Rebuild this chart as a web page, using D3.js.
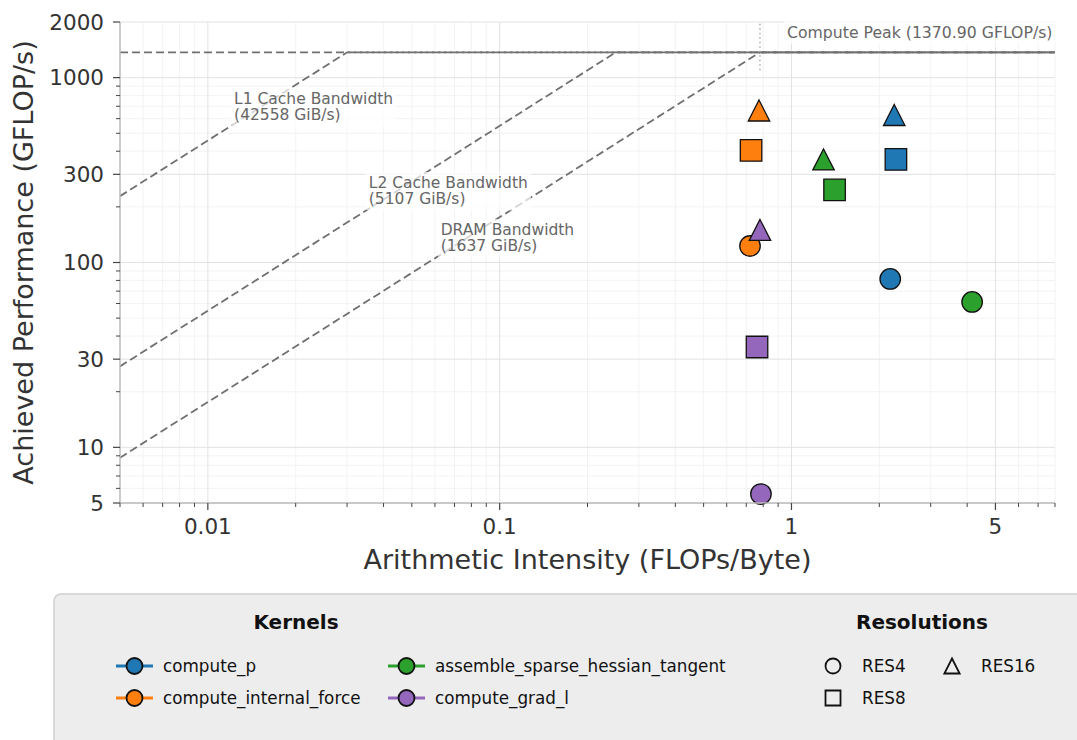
<!DOCTYPE html>
<html lang="en">
<head>
<meta charset="UTF-8">
<title>Roofline</title>
<style>
  body, html { margin: 0; background: #fff; overflow: hidden; }
  text { font-family: "DejaVu Sans", sans-serif; }
</style>
</head>
<body>
<div id="chart"></div>
<script src="https://cdn.jsdelivr.net/npm/d3@7"></script>
<script>
// kernels (colour) and resolutions (marker shape)
const kernels = ["compute_p", "compute_internal_force", "assemble_sparse_hessian_tangent", "compute_grad_l"];
const kernelColors = ["#1f77b4", "#ff7f0e", "#2ca02c", "#9467bd"];
const resolutions = ["RES4", "RES8", "RES16"];
const resShapes = ["circle", "square", "triangle"];

// arithmetic intensity (FLOPs/Byte) and performance (GFLOP/s), one entry per kernel
const res4AI = [2.18, 0.721, 4.16, 0.786];
const res4Perf = [81.5, 122.8, 61.2, 5.59];
const res8AI = [2.28, 0.727, 1.405, 0.762];
const res8Perf = [361, 404, 247, 34.9];
const res16AI = [2.25, 0.774, 1.288, 0.780];
const res16Perf = [628, 664, 361, 150];

// machine roofs
const roofNames = ["L1 Cache Bandwidth", "L2 Cache Bandwidth", "DRAM Bandwidth"];
const roofGiBs = [42558, 5107, 1637];
const peakGflops = 1370.90;

// axes
const xDomain = [0.005, 8];
const yDomain = [5, 2000];
const xTicks = [0.01, 0.1, 1, 5];
const yTicks = [5, 10, 30, 100, 300, 1000, 2000];

const W = 1077, H = 740;
const plot = { left: 120, right: 1055, top: 22, bottom: 503 };

const svg = d3.select("#chart").append("svg")
  .attr("width", W).attr("height", H);

const x = d3.scaleLog().domain(xDomain).range([plot.left, plot.right]);
const y = d3.scaleLog().domain(yDomain).range([plot.bottom, plot.top]);

// every 1..9 x 10^k inside a domain
function logSteps(domain) {
  const out = [];
  for (let e = Math.floor(Math.log10(domain[0])); e <= Math.ceil(Math.log10(domain[1])); e++) {
    for (let m = 1; m <= 9; m++) {
      const v = +(m * Math.pow(10, e)).toPrecision(6);
      if (v >= domain[0] - 1e-12 && v <= domain[1] + 1e-9) out.push(v);
    }
  }
  return out;
}
const isIn = (arr, v) => arr.some(t => Math.abs(t - v) / v < 1e-6);
const xMinor = logSteps(xDomain).filter(v => !isIn(xTicks, v));
const yMinor = logSteps(yDomain).filter(v => !isIn(yTicks, v));

// grid
const grid = svg.append("g");
grid.selectAll(".gx-minor").data(xMinor).enter().append("line")
  .attr("x1", d => x(d)).attr("x2", d => x(d))
  .attr("y1", plot.top).attr("y2", plot.bottom)
  .attr("stroke", "#f0f0f0").attr("stroke-width", 0.8);
grid.selectAll(".gy-minor").data(yMinor).enter().append("line")
  .attr("y1", d => y(d)).attr("y2", d => y(d))
  .attr("x1", plot.left).attr("x2", plot.right)
  .attr("stroke", "#f0f0f0").attr("stroke-width", 0.8);
grid.selectAll(".gx").data(xTicks).enter().append("line")
  .attr("x1", d => x(d)).attr("x2", d => x(d))
  .attr("y1", plot.top).attr("y2", plot.bottom)
  .attr("stroke", "#e2e2e2").attr("stroke-width", 1);
grid.selectAll(".gy").data(yTicks).enter().append("line")
  .attr("y1", d => y(d)).attr("y2", d => y(d))
  .attr("x1", plot.left).attr("x2", plot.right)
  .attr("stroke", "#e2e2e2").attr("stroke-width", 1);

svg.append("clipPath").attr("id", "clip").append("rect")
  .attr("x", plot.left).attr("y", plot.top)
  .attr("width", plot.right - plot.left).attr("height", plot.bottom - plot.top);

const roofG = svg.append("g").attr("clip-path", "url(#clip)");

// faint background text
roofG.append("text")
  .attr("x", 960).attr("y", 47)
  .attr("text-anchor", "middle")
  .attr("font-size", "19px").attr("font-style", "italic")
  .attr("fill", "#fff").attr("opacity", 0.85)
  .text("Compute-bound");

// compute ceiling
roofG.append("line")
  .attr("x1", plot.left).attr("x2", plot.right)
  .attr("y1", y(peakGflops)).attr("y2", y(peakGflops))
  .attr("stroke", "#707070").attr("stroke-width", 1.8)
  .attr("stroke-dasharray", "8,4");

// bandwidth roofs: GiB/s -> GB/s
const roofs = roofNames.map((name, i) => {
  const bw = roofGiBs[i] * 1.073741824;
  return { name, gib: roofGiBs[i], bw, ridge: peakGflops / bw };
});

const roofLine = d3.line().x(d => x(d[0])).y(d => y(d[1]));
roofG.selectAll(".roof").data(roofs).enter().append("path")
  .attr("d", r => roofLine([
    [xDomain[0], xDomain[0] * r.bw],
    [r.ridge, peakGflops],
    [xDomain[1], peakGflops]
  ]))
  .attr("fill", "none")
  .attr("stroke", "#707070").attr("stroke-width", 1.8)
  .attr("stroke-dasharray", "8,4");

// dotted marker at the DRAM ridge point
const dram = roofs[2];
roofG.append("line")
  .attr("x1", x(dram.ridge)).attr("x2", x(dram.ridge))
  .attr("y1", y(peakGflops * 0.8)).attr("y2", y(peakGflops * 1.5))
  .attr("stroke", "#aaa").attr("stroke-width", 1.5)
  .attr("stroke-dasharray", "1.5,3");

// roof labels (anchor: left, first baseline)
const labelPos = [[0.01230, 722], [0.0356, 253], [0.0628, 141]];
roofs.forEach((r, i) => {
  const lx = x(labelPos[i][0]), ly = y(labelPos[i][1]);
  const t = svg.append("text")
    .attr("x", lx).attr("y", ly)
    .attr("font-size", "15.5px").attr("fill", "#666");
  t.append("tspan").attr("x", lx).text(r.name);
  t.append("tspan").attr("x", lx).attr("dy", 16.5).text(`(${r.gib} GiB/s)`);
  const bb = t.node().getBBox();
  svg.insert("rect", () => t.node())
    .attr("x", bb.x - 3).attr("y", bb.y - 2)
    .attr("width", bb.width + 6).attr("height", bb.height + 4)
    .attr("rx", 3)
    .attr("fill", "#fff").attr("opacity", 0.7);
});

// peak label
const pk = svg.append("text")
  .attr("x", 787).attr("y", 38)
  .attr("font-size", "15.7px").attr("fill", "#666")
  .text(`Compute Peak (${peakGflops.toFixed(2)} GFLOP/s)`);
{
  const bb = pk.node().getBBox();
  svg.insert("rect", () => pk.node())
    .attr("x", bb.x - 3).attr("y", bb.y - 2)
    .attr("width", bb.width + 6).attr("height", bb.height + 4)
    .attr("fill", "#fff").attr("opacity", 0.7);
}

// marker shapes
function shapePath(shape, s) {
  if (shape === "circle") return d3.symbol(d3.symbolCircle, Math.PI * s * s / 4)();
  if (shape === "square") return `M${-s/2},${-s/2}H${s/2}V${s/2}H${-s/2}Z`;
  const w = s * 1.02, h = s;
  return `M0,${-h/2}L${w/2},${h/2}L${-w/2},${h/2}Z`;
}

const points = [];
[[res4AI, res4Perf], [res8AI, res8Perf], [res16AI, res16Perf]].forEach((pair, r) => {
  kernels.forEach((k, i) => {
    points.push({ kernel: i, res: r, ai: pair[0][i], perf: pair[1][i] });
  });
});

const markSize = [20.5, 21.5, 21];
svg.append("g").selectAll("path").data(points).enter().append("path")
  .attr("transform", d => `translate(${x(d.ai)},${y(d.perf)})`)
  .attr("d", d => shapePath(resShapes[d.res], markSize[d.res]))
  .attr("fill", d => kernelColors[d.kernel])
  .attr("stroke", "#111").attr("stroke-width", 1.3);

// axes
const xAxis = svg.append("g").attr("transform", `translate(0,${plot.bottom})`);
xAxis.append("line").attr("x1", plot.left).attr("x2", plot.right)
  .attr("stroke", "#bbb").attr("stroke-width", 1.5);
xAxis.selectAll(".mt").data(xMinor).enter().append("line")
  .attr("x1", d => x(d)).attr("x2", d => x(d)).attr("y1", 0).attr("y2", 4)
  .attr("stroke", "#444").attr("stroke-width", 1);
xAxis.selectAll(".Mt").data(xTicks).enter().append("line")
  .attr("x1", d => x(d)).attr("x2", d => x(d)).attr("y1", 0).attr("y2", 7)
  .attr("stroke", "#444").attr("stroke-width", 1.2);
xAxis.selectAll(".tl").data(xTicks).enter().append("text")
  .attr("x", d => x(d)).attr("y", 31)
  .attr("text-anchor", "middle").attr("font-size", "21.5px").attr("fill", "#333")
  .text(d => d3.format("~g")(d));

const yAxis = svg.append("g").attr("transform", `translate(${plot.left},0)`);
yAxis.append("line").attr("y1", plot.top).attr("y2", plot.bottom)
  .attr("stroke", "#bbb").attr("stroke-width", 1.5);
yAxis.selectAll(".mt").data(yMinor).enter().append("line")
  .attr("y1", d => y(d)).attr("y2", d => y(d)).attr("x1", 0).attr("x2", -4)
  .attr("stroke", "#444").attr("stroke-width", 1);
yAxis.selectAll(".Mt").data(yTicks).enter().append("line")
  .attr("y1", d => y(d)).attr("y2", d => y(d)).attr("x1", 0).attr("x2", -7)
  .attr("stroke", "#444").attr("stroke-width", 1.2);
yAxis.selectAll(".tl").data(yTicks).enter().append("text")
  .attr("x", -16).attr("y", d => y(d)).attr("dy", "0.36em")
  .attr("text-anchor", "end").attr("font-size", "21.5px").attr("fill", "#333")
  .text(d => d);

svg.append("text")
  .attr("x", (plot.left + plot.right) / 2).attr("y", 569)
  .attr("text-anchor", "middle").attr("font-size", "27px").attr("fill", "#333")
  .text("Arithmetic Intensity (FLOPs/Byte)");
svg.append("text")
  .attr("transform", `translate(33,${(plot.top + plot.bottom) / 2}) rotate(-90)`)
  .attr("text-anchor", "middle").attr("font-size", "27px").attr("fill", "#333")
  .text("Achieved Performance (GFLOP/s)");

// legend
const lg = svg.append("g");
lg.append("rect")
  .attr("x", 54).attr("y", 594).attr("width", 1060).attr("height", 170)
  .attr("rx", 7).attr("fill", "#ededed")
  .attr("stroke", "#cfcfcf").attr("stroke-width", 1.5);

lg.append("text").attr("x", 296).attr("y", 629)
  .attr("text-anchor", "middle").attr("font-size", "20px").attr("font-weight", "bold")
  .attr("fill", "#111").text("Kernels");
lg.append("text").attr("x", 922).attr("y", 629)
  .attr("text-anchor", "middle").attr("font-size", "20px").attr("font-weight", "bold")
  .attr("fill", "#111").text("Resolutions");

const kCols = [116, 388], rows = [666, 698];
kernels.forEach((k, i) => {
  const cx = kCols[Math.floor(i / 2)], cy = rows[i % 2];
  const g = lg.append("g").attr("transform", `translate(${cx},${cy})`);
  g.append("line").attr("x1", 0).attr("x2", 37)
    .attr("stroke", kernelColors[i]).attr("stroke-width", 2.8);
  g.append("circle").attr("cx", 18.5).attr("r", 8)
    .attr("fill", kernelColors[i]).attr("stroke", "#111").attr("stroke-width", 1.8);
  g.append("text").attr("x", 47).attr("dy", "0.35em")
    .attr("font-size", "16.8px").attr("fill", "#111").text(k);
});

const rPos = [[833, 666], [833, 698], [952, 666]];
resolutions.forEach((r, i) => {
  const g = lg.append("g").attr("transform", `translate(${rPos[i][0]},${rPos[i][1]})`);
  g.append("path").attr("d", shapePath(resShapes[i], 15))
    .attr("fill", "none").attr("stroke", "#111").attr("stroke-width", 1.8);
  g.append("text").attr("x", 29).attr("dy", "0.35em")
    .attr("font-size", "16.8px").attr("fill", "#111").text(r);
});
</script>
</body>
</html>
